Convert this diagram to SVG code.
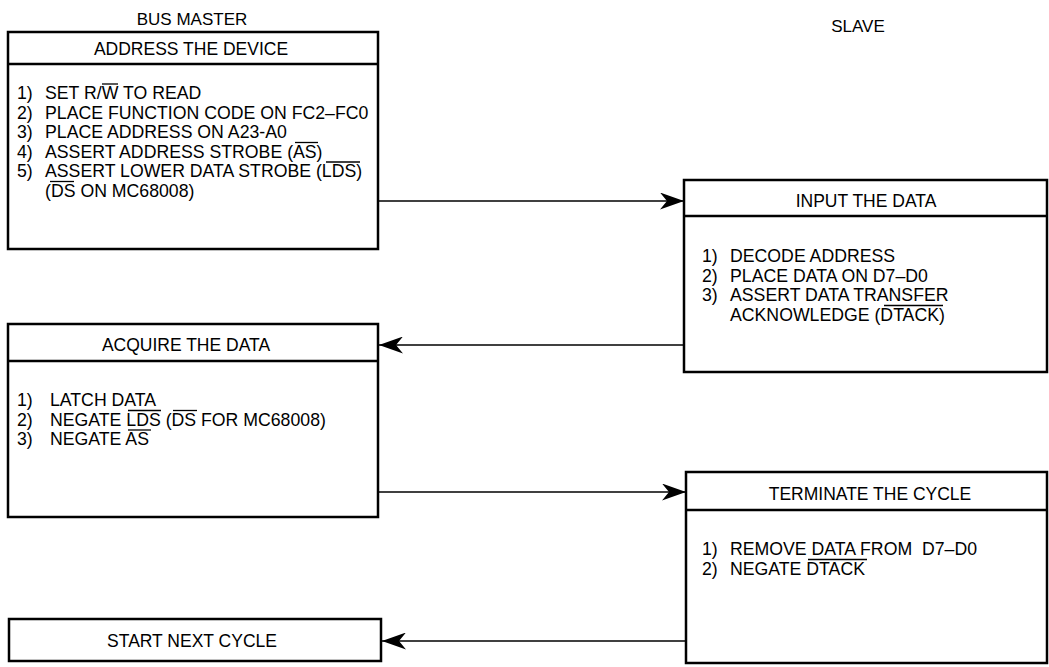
<svg xmlns="http://www.w3.org/2000/svg" width="1049" height="667" viewBox="0 0 1049 667">
<style>
.box{fill:#fff;stroke:#000;stroke-width:2.5}
.div{stroke:#000;stroke-width:2.5}
.ov{stroke:#000;stroke-width:1.3}
.t{font-family:"Liberation Sans",Arial,sans-serif;font-size:17.7px;fill:#000}
.h{font-family:"Liberation Sans",Arial,sans-serif;font-size:17.5px;fill:#000;text-anchor:middle}
.ttl{font-family:"Liberation Sans",Arial,sans-serif;font-size:17px;fill:#000;text-anchor:middle}
.con{stroke:#000;stroke-width:1.5;fill:none;marker-end:url(#ah)}
</style>
<defs>
<marker id="ah" markerUnits="userSpaceOnUse" markerWidth="25" markerHeight="17" refX="24" refY="8.5" orient="auto">
<path d="M0,0 L24,8.5 L0,17 L7,8.5 Z" fill="#000"/>
</marker>
</defs>
<rect width="1049" height="667" fill="#fff"/>
<text class="ttl" x="192" y="25">BUS MASTER</text>
<text class="ttl" x="858" y="32">SLAVE</text>

<g id="connectors">
<line class="con" x1="379" y1="201" x2="684" y2="201"/>
<line class="con" x1="684" y1="345" x2="379" y2="345"/>
<line class="con" x1="379" y1="492" x2="686" y2="492"/>
<line class="con" x1="686" y1="641" x2="382" y2="641"/>
</g>

<g id="address">
<rect class="box" x="8" y="32" width="370" height="217"/>
<line class="div" x1="8" y1="64" x2="378" y2="64"/>
<text class="h" x="191" y="55">ADDRESS THE DEVICE</text>
<text class="t" x="17" y="99">1)</text>
<text class="t" x="45" y="99">SET R/W TO READ</text>
<text class="t" x="17" y="118.5">2)</text>
<text class="t" x="45" y="118.5">PLACE FUNCTION CODE ON FC2–FC0</text>
<text class="t" x="17" y="138">3)</text>
<text class="t" x="45" y="138">PLACE ADDRESS ON A23-A0</text>
<text class="t" x="17" y="157.5">4)</text>
<text class="t" x="45" y="157.5">ASSERT ADDRESS STROBE (AS)</text>
<text class="t" x="17" y="177">5)</text>
<text class="t" x="45" y="177">ASSERT LOWER DATA STROBE (LDS)</text>
<text class="t" x="45" y="196.5">(DS ON MC68008)</text>
<line class="ov" x1="102" y1="84" x2="118" y2="84"/>
<line class="ov" x1="295" y1="142.5" x2="318" y2="142.5"/>
<line class="ov" x1="326" y1="162" x2="360" y2="162"/>
<line class="ov" x1="50" y1="181.5" x2="74" y2="181.5"/>
</g>

<g id="input">
<rect class="box" x="684" y="180" width="363" height="192"/>
<line class="div" x1="684" y1="216" x2="1047" y2="216"/>
<text class="h" x="866" y="207">INPUT THE DATA</text>
<text class="t" x="702" y="262">1)</text>
<text class="t" x="730" y="262">DECODE ADDRESS</text>
<text class="t" x="702" y="281.5">2)</text>
<text class="t" x="730" y="281.5">PLACE DATA ON D7–D0</text>
<text class="t" x="702" y="301">3)</text>
<text class="t" x="730" y="301">ASSERT DATA TRANSFER</text>
<text class="t" x="730" y="320.5">ACKNOWLEDGE (DTACK)</text>
<line class="ov" x1="884" y1="305.5" x2="943" y2="305.5"/>
</g>

<g id="acquire">
<rect class="box" x="8" y="324" width="370" height="193"/>
<line class="div" x1="8" y1="361" x2="378" y2="361"/>
<text class="h" x="186" y="351">ACQUIRE THE DATA</text>
<text class="t" x="17" y="406">1)</text>
<text class="t" x="50" y="406">LATCH DATA</text>
<text class="t" x="17" y="425.5">2)</text>
<text class="t" x="50" y="425.5">NEGATE LDS (DS FOR MC68008)</text>
<text class="t" x="17" y="445">3)</text>
<text class="t" x="50" y="445">NEGATE AS</text>
<line class="ov" x1="128" y1="410.5" x2="161" y2="410.5"/>
<line class="ov" x1="173" y1="410.5" x2="197" y2="410.5"/>
<line class="ov" x1="128" y1="430" x2="151" y2="430"/>
</g>

<g id="terminate">
<rect class="box" x="686" y="472" width="361" height="191"/>
<line class="div" x1="686" y1="510" x2="1047" y2="510"/>
<text class="h" x="870" y="500">TERMINATE THE CYCLE</text>
<text class="t" x="702" y="555">1)</text>
<text class="t" xml:space="preserve" x="730" y="555">REMOVE DATA FROM  D7–D0</text>
<text class="t" x="702" y="574.5">2)</text>
<text class="t" x="730" y="574.5">NEGATE DTACK</text>
<line class="ov" x1="808" y1="559.5" x2="867" y2="559.5"/>
</g>

<g id="start">
<rect class="box" x="9" y="619" width="372" height="42"/>
<text class="h" x="192" y="647">START NEXT CYCLE</text>
</g>
</svg>
